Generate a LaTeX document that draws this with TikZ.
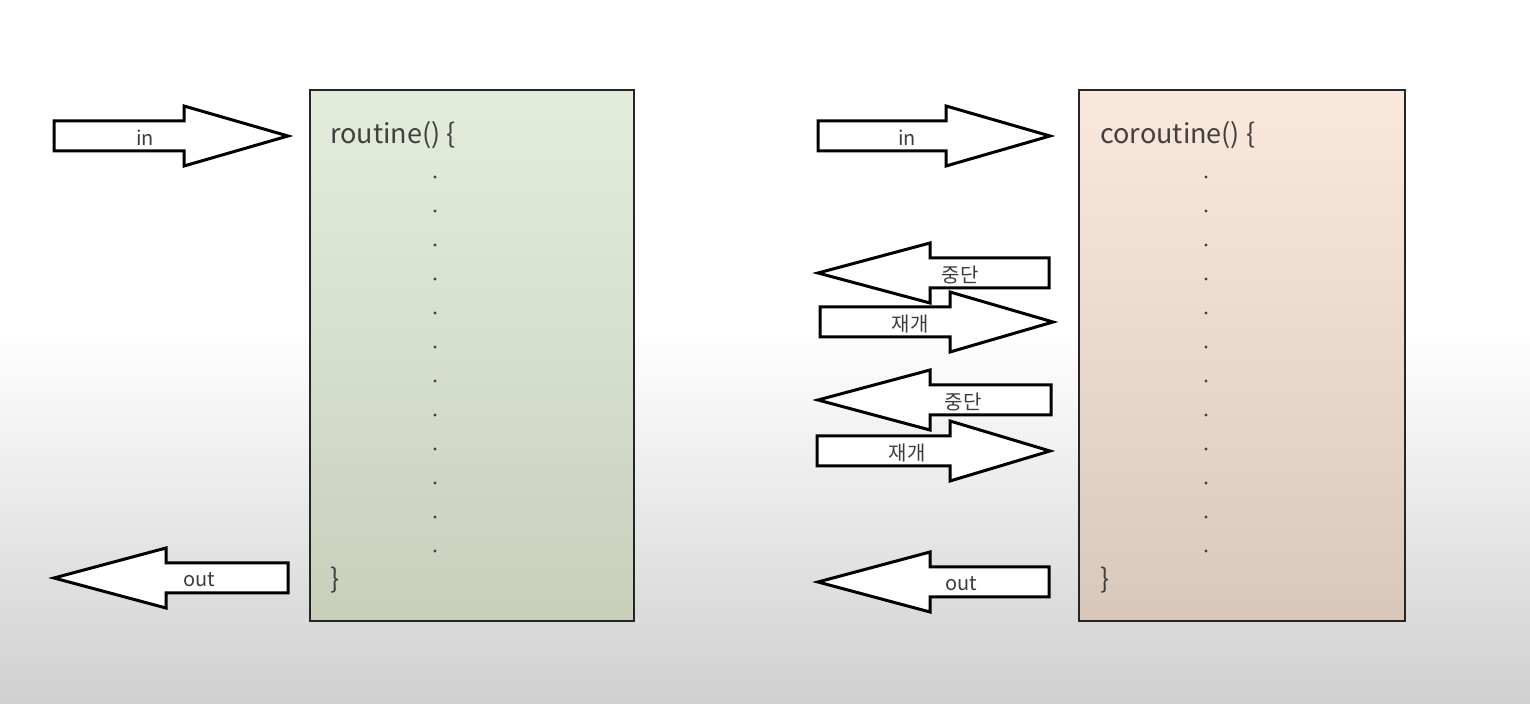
\documentclass[tikz,border=0pt]{standalone}
\usepackage{fontspec}
\setmainfont{Noto Sans CJK KR}
\usetikzlibrary{positioning}
\definecolor{txtgray}{RGB}{64,64,64}
\definecolor{lbltxt}{RGB}{60,60,60}
\definecolor{greentop}{RGB}{228,236,220}
\definecolor{greenbot}{RGB}{200,208,188}
\definecolor{peachtop}{RGB}{251,232,220}
\definecolor{peachbot}{RGB}{216,200,188}
\definecolor{bggray}{RGB}{208,208,208}

% block arrow: name, tail x, head base x, tip x, y, label, label x
\newcommand{\blockarrow}[7]{%
  \draw[barrow] (#2,#5-15) -- (#3,#5-15) -- (#3,#5-30) -- (#4,#5)
    -- (#3,#5+30) -- (#3,#5+15) -- (#2,#5+15) -- cycle;
  \node[arrowlbl] (#1) at (#7,#5+2) {#6};
}

\begin{document}
\begin{tikzpicture}[x=0.5pt, y=-0.5pt,
  barrow/.style={draw=black, fill=white, line width=1.5pt, line join=miter},
  arrowlbl/.style={font=\fontsize{10}{12}\selectfont, text=lbltxt, inner sep=0pt},
  codebox/.style={draw=black!85, line width=1.3pt},
  codetxt/.style={font=\fontsize{13.5}{16}\selectfont, text=txtgray, anchor=west, inner sep=0pt},
  codedot/.style={circle, fill=txtgray, inner sep=0pt, minimum size=1.6pt}]

\useasboundingbox (0,0) rectangle (1530,704);

%---------------------------------------
% Background
%---------------------------------------
\fill[white] (0,0) rectangle (1530,330);
\shade[top color=white, bottom color=bggray] (0,330) rectangle (1530,704);

%====================================================
% LEFT: routine
%====================================================
\shade[top color=greentop, bottom color=greenbot] (310,90) rectangle (634,621);
\draw[codebox] (310,90) rectangle (634,621);

\node[codetxt] (rhead) at (330,135) {routine() \{};
\node[codetxt] (rtail) at (330,580) {\}};
\foreach \i in {0,...,11}
  \node[codedot] (rdot\i) at (435,{177+34*\i}) {};

\blockarrow{rin}{54}{184}{288}{136}{in}{145}
\blockarrow{rout}{288}{166}{54}{578}{out}{199}

%====================================================
% RIGHT: coroutine
%====================================================
\shade[top color=peachtop, bottom color=peachbot] (1079,90) rectangle (1405,621);
\draw[codebox] (1079,90) rectangle (1405,621);

\node[codetxt] (chead) at (1100,135) {coroutine() \{};
\node[codetxt] (ctail) at (1100,580) {\}};
\foreach \i in {0,...,11}
  \node[codedot] (cdot\i) at (1206,{177+34*\i}) {};

\blockarrow{cin}{818}{946}{1050}{136}{in}{907}
\blockarrow{stopa}{1049}{930}{818}{273}{중단}{960}
\blockarrow{resumea}{820}{950}{1053}{322}{재개}{910}
\blockarrow{stopb}{1051}{930}{818}{400}{중단}{963}
\blockarrow{resumeb}{817}{950}{1050}{451}{재개}{907}
\blockarrow{cout}{1049}{930}{818}{582}{out}{961}

\end{tikzpicture}
\end{document}
